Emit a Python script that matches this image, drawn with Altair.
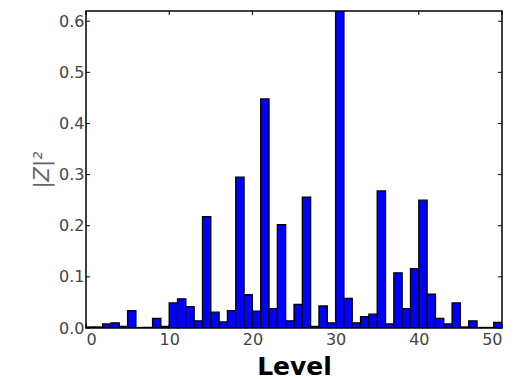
import altair as alt
import pandas as pd

levels = list(range(50))
z2 = [0.002, 0.002, 0.008, 0.010, 0.003, 0.034, 0.001, 0.001, 0.019, 0.003,
      0.049, 0.057, 0.042, 0.014, 0.218, 0.031, 0.012, 0.034, 0.295, 0.065,
      0.033, 0.448, 0.038, 0.202, 0.014, 0.046, 0.256, 0.003, 0.043, 0.010,
      0.620, 0.058, 0.010, 0.022, 0.027, 0.268, 0.008, 0.108, 0.038, 0.116,
      0.250, 0.066, 0.019, 0.008, 0.049, 0.002, 0.014, 0.001, 0.001, 0.011]
x_ticks = [0, 10, 20, 30, 40, 50]
y_ticks = [0.0, 0.1, 0.2, 0.3, 0.4, 0.5, 0.6]

W, H = 416, 317
df = pd.DataFrame({"level": levels, "level_end": [l + 1 for l in levels], "z2": z2})
xt = pd.DataFrame({"x": x_ticks})
yt = pd.DataFrame({"y": y_ticks})

xs = alt.Scale(domain=[0, 50], nice=False, zero=False)
ys = alt.Scale(domain=[0, 0.62], nice=False)

bars = alt.Chart(df).mark_bar(fill="#0000ff", stroke="black", strokeWidth=1.3, clip=True).encode(
    x=alt.X("level:Q", scale=xs,
            axis=alt.Axis(values=x_ticks, title="Level", format="d", ticks=False, domain=False,
                          grid=False, labelPadding=3, titlePadding=7,
                          titleFontSize=25, titleFontWeight="bold", titleColor="black")),
    x2="level_end:Q",
    y=alt.Y("z2:Q", scale=ys,
            axis=alt.Axis(values=y_ticks, title="|Z|²", format=".1f", ticks=False, domain=False,
                          grid=False, labelPadding=2, titlePadding=6,
                          titleFontSize=21, titleFontWeight="normal", titleFontStyle="italic",
                          titleColor="#666")),
    y2=alt.datum(0),
)

tk = dict(color="black", strokeWidth=1)
xb = alt.Chart(xt).mark_rule(**tk).encode(x=alt.X("x:Q", scale=xs), y=alt.value(H), y2=alt.value(H - 4))
xtop = alt.Chart(xt).mark_rule(**tk).encode(x=alt.X("x:Q", scale=xs), y=alt.value(0), y2=alt.value(4))
yl = alt.Chart(yt).mark_rule(**tk).encode(y=alt.Y("y:Q", scale=ys), x=alt.value(0), x2=alt.value(4))
yr = alt.Chart(yt).mark_rule(**tk).encode(y=alt.Y("y:Q", scale=ys), x=alt.value(W), x2=alt.value(W - 4))

chart = alt.layer(bars, xb, xtop, yl, yr).properties(
    width=W, height=H,
    padding={"left": 23, "top": 2, "right": 5, "bottom": 0},
).configure_view(stroke="black", strokeWidth=1.5).configure_axis(
    labelFont="DejaVu Sans", titleFont="DejaVu Sans", labelFontSize=16, labelColor="#444"
)

chart.save("out.html", embed_options={"renderer": "svg", "actions": False})
